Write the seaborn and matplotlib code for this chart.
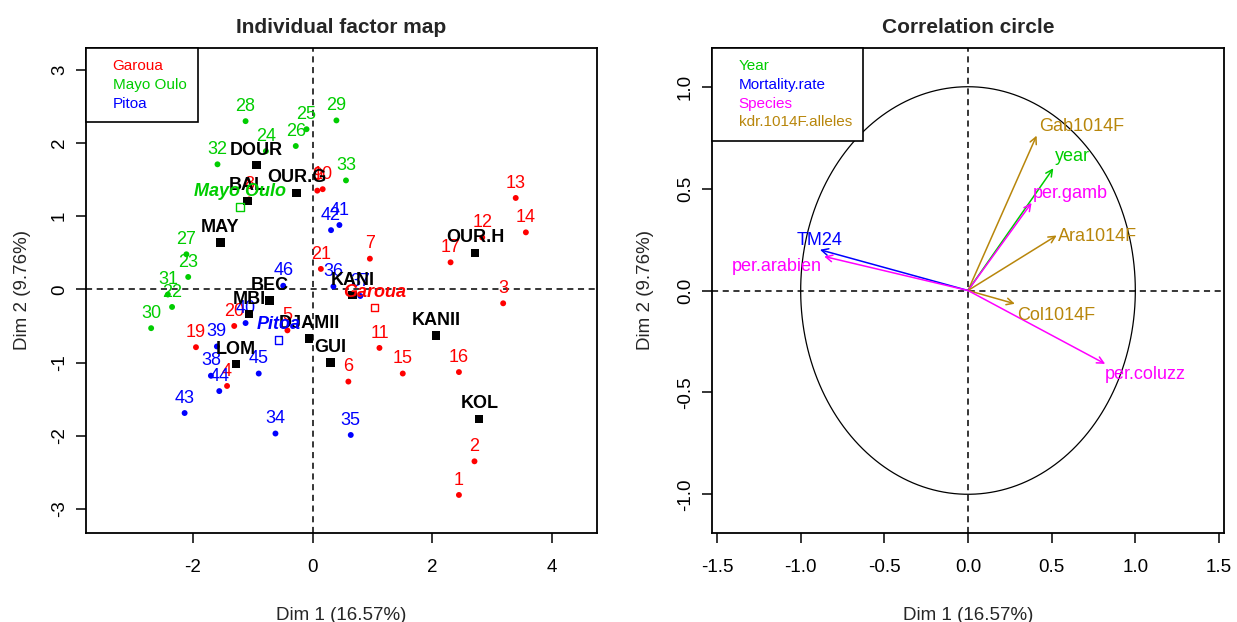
import numpy as np
import pandas as pd
import matplotlib
matplotlib.use("Agg")
import matplotlib.pyplot as plt
import seaborn as sns
from matplotlib.lines import Line2D

# ---------------- data ----------------
group_names = ["Garoua", "Mayo Oulo", "Pitoa"]
group_colors = ["#FF0000", "#00CD00", "#0000FF"]

ind_labels = ["1", "2", "3", "4", "5", "6", "7", "8", "9", "10",
              "11", "12", "13", "14", "15", "16", "17", "19", "20", "21",
              "22", "23", "24", "25", "26", "27", "28", "29", "30", "31", "32", "33",
              "34", "35", "36", "37", "38", "39", "40", "41", "42", "43", "44", "45", "46"]
ind_dim1 = [2.45, 2.71, 3.19, -1.43, -0.42, 0.60, 0.96, -1.06, 0.08, 0.17,
            1.12, 2.84, 3.40, 3.57, 1.51, 2.45, 2.31, -1.95, -1.31, 0.14,
            -2.35, -2.08, -0.78, -0.10, -0.28, -2.11, -1.12, 0.40, -2.70, -2.42, -1.59, 0.56,
            -0.62, 0.64, 0.35, 0.80, -1.70, -1.60, -1.12, 0.45, 0.31, -2.14, -1.56, -0.90, -0.49]
ind_dim2 = [-2.81, -2.35, -0.19, -1.32, -0.56, -1.26, 0.42, 1.23, 1.35, 1.37,
            -0.80, 0.71, 1.25, 0.78, -1.15, -1.13, 0.37, -0.79, -0.50, 0.28,
            -0.24, 0.17, 1.89, 2.19, 1.96, 0.48, 2.30, 2.31, -0.53, -0.07, 1.71, 1.49,
            -1.97, -1.99, 0.04, -0.09, -1.18, -0.78, -0.46, 0.88, 0.81, -1.69, -1.39, -1.15, 0.05]
ind_group = (["Garoua"] * 20) + (["Mayo Oulo"] * 12) + (["Pitoa"] * 13)

site_names = ["DOUR", "BAL", "OUR.G", "MAY", "BEC", "MBI", "DJAMII", "GUI",
              "LOM", "KANI", "KANII", "OUR.H", "KOL"]
site_dim1 = [-0.94, -1.09, -0.27, -1.54, -0.72, -1.06, -0.06, 0.30,
             -1.28, 0.67, 2.07, 2.72, 2.79]
site_dim2 = [1.70, 1.21, 1.32, 0.64, -0.15, -0.34, -0.67, -1.00,
             -1.02, -0.08, -0.63, 0.50, -1.77]

centroid_dim1 = [1.04, -1.21, -0.57]
centroid_dim2 = [-0.25, 1.13, -0.69]

var_names = ["Gab1014F", "year", "per.gamb", "Ara1014F", "Col1014F",
             "per.coluzz", "TM24", "per.arabien"]
var_dim1 = [0.41, 0.51, 0.38, 0.53, 0.28, 0.82, -0.885, -0.86]
var_dim2 = [0.76, 0.60, 0.43, 0.27, -0.065, -0.36, 0.20, 0.167]
var_group = ["kdr.1014F.alleles", "Year", "Species", "kdr.1014F.alleles",
             "kdr.1014F.alleles", "Species", "Mortality.rate", "Species"]
var_group_names = ["Year", "Mortality.rate", "Species", "kdr.1014F.alleles"]
var_group_colors = ["#00CD00", "#0000FF", "#FF00FF", "#B8860B"]

# label placement (layout only): offset in points, horizontal alignment
var_label_layout = {
    "Gab1014F": ((1.5, 6.5), "left"),
    "year": ((1.5, 8.6), "left"),
    "per.gamb": ((1.0, 7.0), "left"),
    "Ara1014F": ((1.0, -0.5), "left"),
    "Col1014F": ((1.5, -8.6), "left"),
    "per.coluzz": ((0.0, -7.8), "left"),
    "TM24": ((0.0, 6.3), "center"),
    "per.arabien": ((-1.7, -7.5), "right"),
}

# ---------------- style ----------------
sns.set_theme(style="ticks")
FONT = ["Liberation Sans", "DejaVu Sans"]
plt.rcParams["font.family"] = FONT
plt.rcParams["axes.unicode_minus"] = False

LBL = 13      # point / arrow labels
TICK = 13.5
TITLE = 15
LEG = 11

df_ind = pd.DataFrame({"dim1": ind_dim1, "dim2": ind_dim2, "group": ind_group, "label": ind_labels})
df_site = pd.DataFrame({"dim1": site_dim1, "dim2": site_dim2, "name": site_names})
df_cent = pd.DataFrame({"dim1": centroid_dim1, "dim2": centroid_dim2, "group": group_names})
df_var = pd.DataFrame({"dim1": var_dim1, "dim2": var_dim2, "group": var_group, "name": var_names})

pal = dict(zip(group_names, group_colors))
vpal = dict(zip(var_group_names, var_group_colors))

fig = plt.figure(figsize=(12.37, 6.22), dpi=100)
fig.patch.set_facecolor("white")
ax1 = fig.add_axes([86 / 1237, 1 - 533 / 622, 511 / 1237, 485 / 622])
ax2 = fig.add_axes([712 / 1237, 1 - 533 / 622, 512 / 1237, 485 / 622])

dash = (0, (4, 3))

# ---------------- left: individual factor map ----------------
ax1.axhline(0, color="black", lw=1.1, ls=dash, zorder=1)
ax1.axvline(0, color="black", lw=1.1, ls=dash, zorder=1)

sns.scatterplot(data=df_ind, x="dim1", y="dim2", hue="group", palette=pal,
                s=18, edgecolor="none", legend=False, ax=ax1, zorder=3)
for _, r in df_ind.iterrows():
    ax1.annotate(r["label"], (r["dim1"], r["dim2"]), xytext=(0, 7.5),
                 textcoords="offset points", ha="center", va="baseline",
                 color=pal[r["group"]], fontsize=LBL, zorder=4)

sns.scatterplot(data=df_site, x="dim1", y="dim2", marker="s", color="black",
                s=36, edgecolor="none", legend=False, ax=ax1, zorder=5)
for _, r in df_site.iterrows():
    ax1.annotate(r["name"], (r["dim1"], r["dim2"]), xytext=(0, 7.5),
                 textcoords="offset points", ha="center", va="baseline",
                 color="black", fontsize=LBL, fontweight="bold", zorder=6)

sns.scatterplot(data=df_cent, x="dim1", y="dim2", hue="group", palette=pal,
                marker="s", s=30, legend=False, ax=ax1, zorder=5)
coll = ax1.collections[-1]
fcs = coll.get_facecolors()
coll.set_edgecolors(fcs)
coll.set_facecolors("none")
coll.set_linewidths(1.0)
for _, r in df_cent.iterrows():
    ax1.annotate(r["group"], (r["dim1"], r["dim2"]), xytext=(0, 7.5),
                 textcoords="offset points", ha="center", va="baseline",
                 color=pal[r["group"]], fontsize=LBL, fontweight="bold",
                 fontstyle="italic", zorder=7)

ax1.set_xlim(-3.79, 4.76)
ax1.set_ylim(-3.33, 3.30)
ax1.set_xticks([-2, 0, 2, 4])
ax1.set_yticks([-3, -2, -1, 0, 1, 2, 3])
ax1.set_title("Individual factor map", fontsize=TITLE, fontweight="bold", pad=11)
ax1.set_xlabel("Dim 1 (16.57%)", fontsize=TICK)
ax1.set_ylabel("Dim 2 (9.76%)", fontsize=TICK)
ax1.xaxis.set_label_coords(0.5, -0.152)
ax1.yaxis.set_label_coords(-0.108, 0.5)

h1 = [Line2D([], [], ls="none") for _ in group_names]
leg1 = ax1.legend(h1, group_names, loc="upper left", borderaxespad=0,
                  fancybox=False, edgecolor="black", framealpha=1,
                  handlelength=0.7, handletextpad=0.3, fontsize=LEG,
                  borderpad=0.75, labelspacing=0.3, labelcolor=group_colors)
leg1.get_frame().set_linewidth(1.2)
leg1.set_zorder(10)

# ---------------- right: correlation circle ----------------
ax2.axhline(0, color="black", lw=1.1, ls=dash, zorder=1)
ax2.axvline(0, color="black", lw=1.1, ls=dash, zorder=1)
theta = np.linspace(0, 2 * np.pi, 400)
ax2.plot(np.cos(theta), np.sin(theta), color="black", lw=0.9, zorder=2)

for _, r in df_var.iterrows():
    c = vpal[r["group"]]
    ax2.annotate("", xy=(r["dim1"], r["dim2"]), xytext=(0, 0),
                 arrowprops=dict(arrowstyle="->", color=c, lw=1.1,
                                 shrinkA=0, shrinkB=0, mutation_scale=12),
                 zorder=3)
    off, ha = var_label_layout[r["name"]]
    ax2.annotate(r["name"], (r["dim1"], r["dim2"]), xytext=off,
                 textcoords="offset points", ha=ha, va="center",
                 color=c, fontsize=LBL, zorder=4)

ax2.set_xlim(-1.53, 1.53)
ax2.set_ylim(-1.19, 1.19)
ax2.set_xticks([-1.5, -1.0, -0.5, 0.0, 0.5, 1.0, 1.5])
ax2.set_xticklabels(["-1.5", "-1.0", "-0.5", "0.0", "0.5", "1.0", "1.5"])
ax2.set_yticks([-1.0, -0.5, 0.0, 0.5, 1.0])
ax2.set_yticklabels(["-1.0", "-0.5", "0.0", "0.5", "1.0"])
ax2.set_title("Correlation circle", fontsize=TITLE, fontweight="bold", pad=11)
ax2.set_xlabel("Dim 1 (16.57%)", fontsize=TICK)
ax2.set_ylabel("Dim 2 (9.76%)", fontsize=TICK)
ax2.xaxis.set_label_coords(0.5, -0.152)
ax2.yaxis.set_label_coords(-0.113, 0.5)

h2 = [Line2D([], [], ls="none") for _ in var_group_names]
leg2 = ax2.legend(h2, var_group_names, loc="upper left", borderaxespad=0,
                  fancybox=False, edgecolor="black", framealpha=1,
                  handlelength=0.7, handletextpad=0.3, fontsize=LEG,
                  borderpad=0.75, labelspacing=0.3, labelcolor=var_group_colors)
leg2.get_frame().set_linewidth(1.2)
leg2.set_zorder(10)

for ax in (ax1, ax2):
    ax.set_facecolor("white")
    for sp in ax.spines.values():
        sp.set_visible(True)
        sp.set_color("black")
        sp.set_linewidth(1.3)
    ax.tick_params(axis="both", direction="out", length=7, width=1.1,
                   colors="black", labelsize=TICK)
    ax.tick_params(axis="x", pad=12)
    ax.tick_params(axis="y", pad=6)
    plt.setp(ax.get_yticklabels(), rotation=90, va="center")
    ax.grid(False)

fig.savefig("out.png", dpi=100, facecolor="white")
